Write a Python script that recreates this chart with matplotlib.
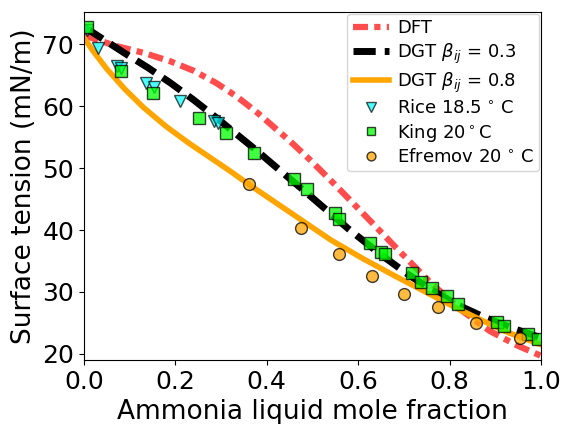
import numpy as np
import matplotlib
matplotlib.use("Agg")
import matplotlib.pyplot as plt

# model curves
x_dft = [0.0, 0.07, 0.13, 0.19, 0.24, 0.29, 0.335, 0.38, 0.45, 0.495, 0.54, 0.58,
         0.626, 0.69, 0.757, 0.823, 0.888, 0.947, 1.0]
y_dft = [71.4, 69.7, 68.6, 67.2, 65.7, 63.7, 61.5, 58.9, 54.4, 51.3, 48.0, 45.0,
         41.5, 36.6, 31.6, 27.2, 23.7, 21.4, 19.7]

x_dgt03 = [0.0, 0.09, 0.14, 0.19, 0.24, 0.29, 0.34, 0.38, 0.41, 0.495, 0.58, 0.65,
           0.706, 0.757, 0.815, 0.874, 0.932, 1.0]
y_dgt03 = [72.8, 68.5, 66.2, 63.7, 61.0, 58.1, 55.1, 52.7, 50.8, 45.5, 40.1, 36.0,
           33.0, 30.5, 28.0, 26.0, 24.3, 22.6]

x_dgt08 = [0.0, 0.02, 0.05, 0.09, 0.13, 0.18, 0.23, 0.28, 0.32, 0.36, 0.41, 0.46,
           0.54, 0.61, 0.68, 0.75, 0.815, 0.874, 0.93, 1.0]
y_dgt08 = [71.0, 68.9, 66.0, 62.7, 59.8, 56.7, 54.0, 51.5, 49.5, 47.4, 44.9, 42.4,
           38.4, 35.4, 32.6, 29.9, 27.4, 25.3, 23.4, 21.5]

# experimental data
x_rice = [0.007, 0.030, 0.072, 0.082, 0.135, 0.154, 0.211, 0.285, 0.293]
y_rice = [72.3, 69.4, 66.5, 66.1, 63.7, 63.0, 60.8, 57.6, 57.2]

x_king = [0.007, 0.081, 0.152, 0.252, 0.310, 0.373, 0.460, 0.489, 0.549, 0.558,
          0.626, 0.651, 0.659, 0.717, 0.737, 0.761, 0.794, 0.819, 0.903, 0.918,
          0.972, 0.994]
y_king = [72.8, 65.7, 62.1, 58.1, 55.6, 52.4, 48.2, 46.6, 42.7, 41.7,
          37.9, 36.4, 36.1, 33.0, 31.6, 30.6, 29.4, 28.1, 25.2, 24.5,
          23.2, 22.4]

x_efremov = [0.361, 0.475, 0.558, 0.630, 0.700, 0.774, 0.857, 0.954]
y_efremov = [47.4, 40.4, 36.1, 32.5, 29.7, 27.5, 24.95, 22.5]

fig, ax = plt.subplots(figsize=(5.63, 4.24), dpi=100)
fig.subplots_adjust(left=0.149, right=0.961, bottom=0.151, top=0.972)

ax.plot(x_dft, y_dft, color='r', alpha=0.7, lw=4.5, dashes=(2.4, 1.0, 1.0, 1.0), label='DFT')
ax.plot(x_dgt03, y_dgt03, color='k', lw=5, dashes=(3.2, 1.3), label=r'DGT $\beta_{ij}$ = 0.3')
ax.plot(x_dgt08, y_dgt08, color='orange', lw=4, label=r'DGT $\beta_{ij}$ = 0.8')

ax.plot(x_rice, y_rice, 'v', ms=9, color='cyan', mec='k', alpha=0.7, ls='none',
        label=r'Rice 18.5$\,^\circ\,$C')
ax.plot(x_king, y_king, 's', ms=8, color='lime', mec='k', alpha=0.75, ls='none',
        label=r'King 20$^\circ$C')
ax.plot(x_efremov, y_efremov, 'o', ms=8.5, color='orange', mec='k', alpha=0.75, ls='none',
        label=r'Efremov 20$\,^\circ\,$C')

ax.set_xlim(0, 1.0)
ax.set_ylim(19.03, 75.2)
ax.set_xticks([0.0, 0.2, 0.4, 0.6, 0.8, 1.0])
ax.set_yticks([20, 30, 40, 50, 60, 70])
ax.tick_params(labelsize=18)
ax.set_xlabel('Ammonia liquid mole fraction', fontsize=19)
ax.set_ylabel('Surface tension (mN/m)', fontsize=19)
ax.legend(loc='upper right', fontsize=13, borderaxespad=0.1, handletextpad=0.45,
          handlelength=2.0, labelspacing=0.25, borderpad=0.3, markerscale=0.75)

plt.savefig('out.png', dpi=100)
plt.close()
